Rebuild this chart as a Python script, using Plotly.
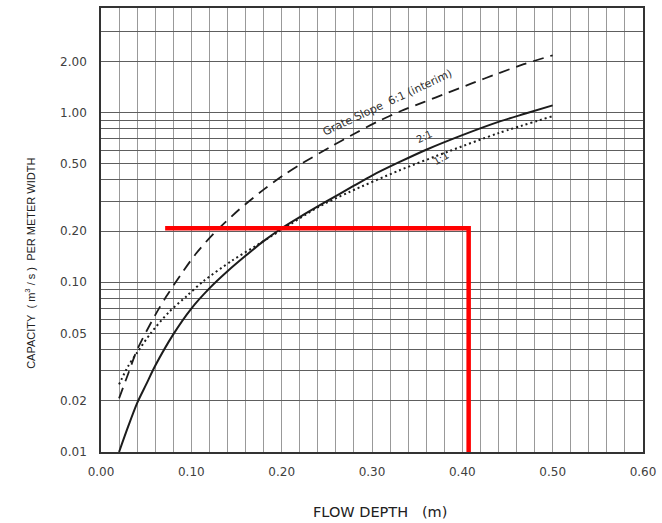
import math
import plotly.graph_objects as go

# ---- data ----
depth_2to1 = [0.020, 0.030, 0.040, 0.050, 0.060, 0.080, 0.100, 0.120, 0.140, 0.160, 0.180,
              0.200, 0.220, 0.250, 0.280, 0.300, 0.330, 0.360, 0.400, 0.440, 0.470, 0.500]
cap_2to1 = [0.0100, 0.0141, 0.0194, 0.0250, 0.0322, 0.0493, 0.0700, 0.0920, 0.1160, 0.1430, 0.1745,
            0.2080, 0.2420, 0.3000, 0.3700, 0.4250, 0.5090, 0.6030, 0.7350, 0.8800, 0.9850, 1.1000]

depth_1to1 = [0.020, 0.030, 0.040, 0.055, 0.075, 0.095, 0.113, 0.145, 0.170, 0.197,
              0.240, 0.275, 0.330, 0.385, 0.440, 0.500]
cap_1to1 = [0.0250, 0.0320, 0.0385, 0.0500, 0.0665, 0.0830, 0.1010, 0.1340, 0.1620, 0.1990,
            0.2760, 0.3400, 0.4550, 0.5900, 0.7550, 0.9500]

depth_6to1 = [0.020, 0.030, 0.040, 0.060, 0.072, 0.089, 0.105, 0.125, 0.153, 0.180, 0.202,
              0.222, 0.255, 0.283, 0.307, 0.332, 0.358, 0.384, 0.409, 0.440, 0.468, 0.500]
cap_6to1 = [0.0207, 0.0288, 0.0400, 0.0640, 0.0820, 0.1120, 0.1470, 0.1940, 0.2680, 0.3510, 0.4270,
            0.4990, 0.6310, 0.7620, 0.8870, 1.0190, 1.1530, 1.3060, 1.4720, 1.7000, 1.9230, 2.1700]

# red design-point lines
red_x = [0.071, 0.407, 0.407]
red_y = [0.208, 0.208, 0.01]

x_ticks = [0.0, 0.1, 0.2, 0.3, 0.4, 0.5, 0.6]
x_ticktext = ["0.00", "0.10", "0.20", "0.30", "0.40", "0.50", "0.60"]

y_labelled = {0.01: "0.01", 0.02: "0.02", 0.05: "0.05", 0.1: "0.10",
              0.2: "0.20", 0.5: "0.50", 1.0: "1.00", 2.0: "2.00"}
y_grid = [round(m * d, 4) for d in (0.01, 0.1, 1.0) for m in range(1, 10) if m * d <= 3.0]

# ---- figure ----
fig = go.Figure()
ink = "#1c1c1c"
fig.add_trace(go.Scatter(x=depth_6to1, y=cap_6to1, mode="lines",
                         line=dict(color=ink, width=1.8, dash="11px,7px", shape="spline", smoothing=0.8)))
fig.add_trace(go.Scatter(x=depth_1to1, y=cap_1to1, mode="lines",
                         line=dict(color=ink, width=2, dash="2px,3px", shape="spline", smoothing=0.8)))
fig.add_trace(go.Scatter(x=depth_2to1, y=cap_2to1, mode="lines",
                         line=dict(color=ink, width=2, shape="spline", smoothing=0.8)))
fig.add_trace(go.Scatter(x=red_x, y=red_y, mode="lines",
                         line=dict(color="#ff0000", width=4.5)))

tick_font = dict(family="DejaVu Sans", size=12, color="#404040")

fig.update_xaxes(range=[0, 0.6], tickvals=x_ticks, ticktext=x_ticktext,
                 showgrid=True, gridcolor="#999999", gridwidth=1,
                 minor=dict(tick0=0, dtick=0.02, showgrid=True, gridcolor="#999999", gridwidth=1),
                 showline=True, linecolor="#333333", linewidth=1.6, mirror=True,
                 ticks="", zeroline=False, tickfont=tick_font, ticklabelstandoff=8)
fig.update_yaxes(type="log", range=[-2, 0.615], tickvals=y_grid,
                 ticktext=[y_labelled.get(v, "") for v in y_grid],
                 showgrid=True, gridcolor="#5e5e5e", gridwidth=1.2,
                 showline=True, linecolor="#333333", linewidth=1.6, mirror=True,
                 ticks="", zeroline=False, tickfont=tick_font, ticklabelstandoff=10)

label_font = dict(family="DejaVu Sans", size=11, color="#303030")
fig.update_layout(
    width=662, height=523, autosize=False,
    margin=dict(l=101, r=15, t=6, b=71),
    paper_bgcolor="white", plot_bgcolor="white",
    showlegend=False,
    annotations=[
        dict(x=0.3176, y=math.log10(1.144), xref="x", yref="y", text="Grate Slope  6:1 (interim)",
             showarrow=False, textangle=-25, font=label_font),
        dict(x=0.358, y=-0.14, xref="x", yref="y", text="2:1",
             showarrow=False, textangle=-25, font=dict(family="DejaVu Sans", size=10, color="#303030")),
        dict(x=0.376, y=-0.272, xref="x", yref="y", text="1:1",
             showarrow=False, textangle=-30, font=dict(family="DejaVu Sans", size=10, color="#303030")),
        dict(x=0.5147, y=-0.1345, xref="paper", yref="paper", xanchor="center", yanchor="middle",
             text="FLOW DEPTH\u00a0\u00a0\u00a0(m)", showarrow=False,
             font=dict(family="DejaVu Sans", size=14.5, color="#202020")),
        dict(x=-0.130, y=0.425, xref="paper", yref="paper", textangle=-90,
             xanchor="center", yanchor="middle",
             text="CAPACITY\u00a0\u00a0(\u00a0m<sup>3</sup>\u00a0/\u00a0s\u00a0)\u00a0\u00a0PER METER WIDTH",
             showarrow=False,
             font=dict(family="Liberation Sans", size=11, color="#202020")),
    ],
)

fig.write_html("out.html", config={"displayModeBar": False},
               post_script="document.body.style.margin='0px';")
